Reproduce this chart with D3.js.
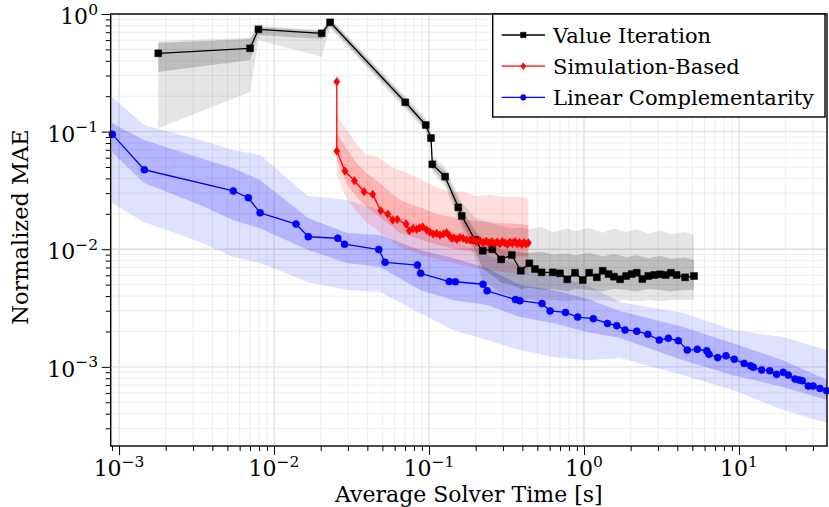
<!DOCTYPE html>
<html><head><meta charset="utf-8">
<script src="https://cdn.jsdelivr.net/npm/d3@7"></script>
<style>body{margin:0;background:#fff} svg{display:block} text{font-family:"DejaVu Serif",serif;fill:#000}</style>
</head><body><svg id="c" width="829" height="507"></svg>
<script>
// ---------------- data ----------------
const seriesNames = ["Value Iteration", "Simulation-Based", "Linear Complementarity"];

// Value Iteration (black squares)
const viX = [0.00179, 0.0070, 0.00793, 0.0203, 0.0230, 0.0703, 0.0953, 0.103, 0.105, 0.127, 0.1545, 0.1626, 0.198, 0.222, 0.256, 0.292, 0.342, 0.391, 0.444, 0.483, 0.533, 0.628, 0.700, 0.780, 0.875, 0.982, 1.08, 1.21, 1.32, 1.44, 1.56, 1.71, 1.87, 2.03, 2.19, 2.38, 2.60, 2.84, 3.09, 3.37, 3.64, 3.96, 4.49, 5.13];
const viY = [0.463, 0.511, 0.741, 0.685, 0.850, 0.1775, 0.1138, 0.0882, 0.0527, 0.0414, 0.0227, 0.0192, 0.0120, 0.0097, 0.0100, 0.0082, 0.00893, 0.00656, 0.00759, 0.00679, 0.00636, 0.00636, 0.00624, 0.00555, 0.00631, 0.00547, 0.00631, 0.00577, 0.00656, 0.00615, 0.00584, 0.00555, 0.00592, 0.00615, 0.00631, 0.00558, 0.00592, 0.00604, 0.00612, 0.00604, 0.00631, 0.00604, 0.00577, 0.00592];
const viBandX   = [0.00179, 0.0070, 0.00793, 0.0203, 0.0230, 0.0703, 0.0953, 0.103, 0.105, 0.127, 0.1545, 0.1626, 0.198, 0.222, 0.256, 0.292, 0.342, 0.391, 0.444, 0.533, 0.628, 0.78, 0.875, 1.08, 1.32, 1.56, 1.87, 2.19, 2.60, 3.09, 3.64, 4.49, 5.13];
const viOuterHi = [0.589, 0.625, 0.791, 0.731, 0.925, 0.20, 0.13, 0.10, 0.062, 0.05, 0.029, 0.025, 0.0185, 0.0177, 0.0165, 0.0158, 0.0150, 0.0152, 0.0148, 0.0155, 0.0140, 0.0150, 0.0142, 0.0152, 0.0138, 0.0150, 0.0140, 0.0148, 0.0136, 0.0145, 0.0135, 0.0140, 0.0132];
const viInnerHi = [0.567, 0.613, 0.775, 0.717, 0.906, 0.19, 0.122, 0.095, 0.058, 0.046, 0.026, 0.022, 0.0145, 0.0118, 0.0108, 0.0100, 0.0097, 0.0094, 0.0093, 0.0095, 0.0090, 0.0092, 0.0089, 0.0093, 0.0087, 0.0091, 0.0086, 0.0089, 0.0084, 0.0088, 0.0083, 0.0085, 0.0081];
const viInnerLo = [0.321, 0.406, 0.663, 0.613, 0.791, 0.165, 0.106, 0.081, 0.048, 0.037, 0.020, 0.0168, 0.0098, 0.0068, 0.0060, 0.0052, 0.0050, 0.0046, 0.0047, 0.0045, 0.0046, 0.0044, 0.0046, 0.0045, 0.0044, 0.0046, 0.0045, 0.0044, 0.0046, 0.0045, 0.0044, 0.0045, 0.0045];
const viOuterLo = [0.107, 0.217, 0.601, 0.431, 0.76, 0.155, 0.10, 0.076, 0.045, 0.034, 0.018, 0.015, 0.0085, 0.0055, 0.0048, 0.0042, 0.0040, 0.0036, 0.0038, 0.0036, 0.0037, 0.0036, 0.0037, 0.0036, 0.0037, 0.0036, 0.0037, 0.0036, 0.0037, 0.0036, 0.0037, 0.0037, 0.0037];

// Simulation-Based (red diamonds)
const sbX = [0.0254, 0.0254, 0.0287, 0.0330, 0.0381, 0.0433, 0.0488, 0.0542, 0.0583, 0.0624, 0.0711, 0.0746, 0.0790, 0.0833, 0.0870, 0.0910, 0.0967, 0.1010, 0.1066, 0.1120, 0.1178, 0.1240, 0.130, 0.135, 0.140, 0.145, 0.151, 0.158, 0.166, 0.175, 0.184, 0.193, 0.203, 0.213, 0.224, 0.234, 0.244, 0.254, 0.264, 0.275, 0.286, 0.297, 0.309, 0.321, 0.333, 0.345, 0.358, 0.371, 0.384, 0.397, 0.410, 0.423, 0.4375];
const sbY = [0.266, 0.0684, 0.0462, 0.0382, 0.0308, 0.0293, 0.0212, 0.0199, 0.0177, 0.0179, 0.0164, 0.01437, 0.0150, 0.01476, 0.0152, 0.0155, 0.01456, 0.0140, 0.01346, 0.0136, 0.0132, 0.0135, 0.0138, 0.0131, 0.01238, 0.0125, 0.01214, 0.0126, 0.01238, 0.0120, 0.01197, 0.0121, 0.01158, 0.0118, 0.01135, 0.0117, 0.0113, 0.0116, 0.0112, 0.0115, 0.0111, 0.0116, 0.0113, 0.0110, 0.0115, 0.0112, 0.0116, 0.0111, 0.0114, 0.0110, 0.0114, 0.0111, 0.0113];
const sbBandX   = [0.0254, 0.0275, 0.0297, 0.034, 0.0394, 0.045, 0.050, 0.057, 0.065, 0.077, 0.09, 0.11, 0.137, 0.165, 0.2, 0.25, 0.3, 0.36, 0.4375];
const sbOuterHi = [0.14, 0.118, 0.103, 0.078, 0.0632, 0.062, 0.0574, 0.050, 0.0471, 0.043, 0.0388, 0.034, 0.0306, 0.031, 0.0283, 0.029, 0.0278, 0.028, 0.0272];
const sbInnerHi = [0.095, 0.082, 0.0698, 0.054, 0.0445, 0.039, 0.0352, 0.030, 0.0262, 0.024, 0.0224, 0.020, 0.0188, 0.018, 0.0174, 0.0170, 0.0167, 0.0165, 0.0161];
const sbInnerLo = [0.057, 0.045, 0.0352, 0.028, 0.0229, 0.020, 0.0181, 0.0158, 0.01374, 0.0128, 0.01197, 0.0110, 0.01023, 0.0098, 0.00946, 0.0092, 0.00893, 0.0088, 0.0086];
const sbOuterLo = [0.043, 0.033, 0.0262, 0.021, 0.0170, 0.0150, 0.0132, 0.0118, 0.01044, 0.0096, 0.00893, 0.0083, 0.00778, 0.0073, 0.00692, 0.0066, 0.0064, 0.0062, 0.00604];

// Linear Complementarity (blue circles)
const lcX = [0.000905, 0.001456, 0.00546, 0.00682, 0.00813, 0.01387, 0.01663, 0.0258, 0.0285, 0.0474, 0.052, 0.0842, 0.0883, 0.135, 0.148, 0.223, 0.237, 0.361, 0.386, 0.536, 0.604, 0.760, 0.910, 1.148, 1.418, 1.626, 1.84, 2.19, 2.58, 3.06, 3.50, 4.06, 4.64, 5.38, 6.19, 6.40, 7.29, 8.24, 9.33, 10.8, 11.9, 12.4, 14.0, 15.8, 17.5, 19.3, 20.8, 23.0, 24.5, 25.6, 28.0, 30.1, 33.3, 36.8];
const lcY = [0.0948, 0.0474, 0.0313, 0.0274, 0.0204, 0.01638, 0.01277, 0.0124, 0.01103, 0.00994, 0.00774, 0.00734, 0.00624, 0.00531, 0.00529, 0.00504, 0.00443, 0.00373, 0.00365, 0.00345, 0.00299, 0.00290, 0.00265, 0.00257, 0.00234, 0.00224, 0.00206, 0.00201, 0.00189, 0.00169, 0.00175, 0.00167, 0.00139, 0.00141, 0.00137, 0.00128, 0.00120, 0.00124, 0.00116, 0.00107, 0.00102, 0.00099, 0.00094, 0.000927, 0.000863, 0.000898, 0.000851, 0.000787, 0.000772, 0.000762, 0.000687, 0.000687, 0.000656, 0.000626];
const lcBandX   = [0.0009, 0.00145, 0.00334, 0.00543, 0.00813, 0.01656, 0.0296, 0.0483, 0.0875, 0.143, 0.237, 0.386, 0.631, 1.045, 1.71, 4.35, 9.15, 19.2, 37];
const lcOuterHi = [0.197, 0.114, 0.0849, 0.0698, 0.0632, 0.0283, 0.0262, 0.0215, 0.0161, 0.01197, 0.00893, 0.00734, 0.00604, 0.00496, 0.00356, 0.00287, 0.00206, 0.00179, 0.00139];
const lcInnerHi = [0.118, 0.0849, 0.0596, 0.049, 0.0388, 0.0184, 0.01374, 0.0132, 0.00985, 0.00842, 0.00692, 0.00496, 0.0045, 0.00380, 0.00298, 0.00218, 0.00159, 0.00114, 0.000772];
const lcInnerLo = [0.0671, 0.0366, 0.0238, 0.0177, 0.0151, 0.00985, 0.00763, 0.00706, 0.0045, 0.0037, 0.00336, 0.00265, 0.00236, 0.00198, 0.00176, 0.00114, 0.00085, 0.000673, 0.000522];
const lcOuterLo = [0.0247, 0.0170, 0.0115, 0.0086, 0.00763, 0.00526, 0.0045, 0.00433, 0.00287, 0.00206, 0.00169, 0.00139, 0.00121, 0.00114, 0.00119, 0.00085, 0.000635, 0.00043, 0.000333];

// axes
const xTickExps = [-3, -2, -1, 0, 1];
const yTickExps = [0, -1, -2, -3];
const xTitle = "Average Solver Time [s]";
const yTitle = "Normalized MAE";

// ---------------- drawing ----------------
const svg = d3.select("#c");
const L = 110.7, T = 14, R = 827, B = 446;
const x = d3.scaleLog().domain([Math.pow(10, -3.054), Math.pow(10, 1.568)]).range([L, R]);
const y = d3.scaleLog().domain([Math.pow(10, -3.673), 1]).range([B, T]);

svg.append("defs").append("clipPath").attr("id", "clip")
  .append("rect").attr("x", L).attr("y", T).attr("width", R - L).attr("height", B - T);

function logTicks(scale) {
  const [a, b] = scale.domain();
  const major = [], minor = [];
  for (let e = Math.floor(Math.log10(a)); e <= Math.ceil(Math.log10(b)); e++) {
    for (let m = 1; m <= 9; m++) {
      const v = m * Math.pow(10, e);
      if (v < a * 0.9999 || v > b * 1.0001) continue;
      (m === 1 ? major : minor).push(v);
    }
  }
  return { major, minor };
}
const xt = logTicks(x), yt = logTicks(y);

// grid
const grid = svg.append("g");
grid.selectAll(".gxm").data(xt.minor).enter().append("line")
  .attr("x1", d => x(d)).attr("x2", d => x(d)).attr("y1", T).attr("y2", B)
  .attr("stroke", "#eeeeee").attr("stroke-width", 1);
grid.selectAll(".gym").data(yt.minor).enter().append("line")
  .attr("y1", d => y(d)).attr("y2", d => y(d)).attr("x1", L).attr("x2", R)
  .attr("stroke", "#eeeeee").attr("stroke-width", 1);
grid.selectAll(".gxM").data(xt.major).enter().append("line")
  .attr("x1", d => x(d)).attr("x2", d => x(d)).attr("y1", T).attr("y2", B)
  .attr("stroke", "#e0e0e0").attr("stroke-width", 1.3);
grid.selectAll(".gyM").data(yt.major).enter().append("line")
  .attr("y1", d => y(d)).attr("y2", d => y(d)).attr("x1", L).attr("x2", R)
  .attr("stroke", "#e0e0e0").attr("stroke-width", 1.3);

// bands
const bandsG = svg.append("g").attr("clip-path", "url(#clip)");
function band(xs, lo, hi, color, op) {
  const pts = xs.map((v, i) => ({ x: v, lo: lo[i], hi: hi[i] }));
  const area = d3.area().x(d => x(d.x)).y0(d => y(d.lo)).y1(d => y(d.hi));
  bandsG.append("path").datum(pts).attr("d", area).attr("fill", color).attr("fill-opacity", op);
}
band(lcBandX, lcOuterLo, lcOuterHi, "#0000ff", 0.12);
band(lcBandX, lcInnerLo, lcInnerHi, "#0000ff", 0.19);
band(sbBandX, sbOuterLo, sbOuterHi, "#ff0000", 0.13);
band(sbBandX, sbInnerLo, sbInnerHi, "#ff0000", 0.19);
band(viBandX, viOuterLo, viOuterHi, "#000000", 0.10);
band(viBandX, viInnerLo, viInnerHi, "#000000", 0.17);

// lines & markers
const linesG = svg.append("g").attr("clip-path", "url(#clip)");
const line = d3.line().x(d => x(d[0])).y(d => y(d[1]));
const series = [
  { xs: viX, ys: viY, color: "#000000", mark: "square" },
  { xs: sbX, ys: sbY, color: "#ff0000", mark: "diamond" },
  { xs: lcX, ys: lcY, color: "#0000ff", mark: "circle" }
];
function markPath(kind, s) {
  if (kind === "square") return `M${-s},${-s}h${2 * s}v${2 * s}h${-2 * s}Z`;
  if (kind === "diamond") return `M0,${-s * 1.35}L${s},0L0,${s * 1.35}L${-s},0Z`;
  return d3.symbol(d3.symbolCircle, Math.PI * s * s)();
}
const markG = svg.append("g");
series.forEach(sr => {
  const pts = sr.xs.map((v, i) => [v, sr.ys[i]]);
  linesG.append("path").datum(pts).attr("d", line).attr("fill", "none")
    .attr("stroke", sr.color).attr("stroke-width", 1.3).attr("stroke-linejoin", "round");
  const size = sr.mark === "square" ? 3.4 : sr.mark === "diamond" ? 3.1 : 3.5;
  markG.selectAll(null).data(pts).enter().append("path")
    .attr("d", markPath(sr.mark, size))
    .attr("transform", d => `translate(${x(d[0])},${y(d[1])})`)
    .attr("fill", sr.color).attr("stroke", sr.color).attr("stroke-width", 0.6);
});

// frame
svg.append("rect").attr("x", L).attr("y", T).attr("width", R - L).attr("height", B - T)
  .attr("fill", "none").attr("stroke", "#000").attr("stroke-width", 1.4);

// axis ticks (outside)
const xAxisMaj = d3.axisBottom(x).tickValues(xt.major).tickSize(9).tickFormat(() => "");
const xAxisMin = d3.axisBottom(x).tickValues(xt.minor).tickSize(5).tickFormat(() => "");
const yAxisMaj = d3.axisLeft(y).tickValues(yt.major).tickSize(9).tickFormat(() => "");
const yAxisMin = d3.axisLeft(y).tickValues(yt.minor).tickSize(5).tickFormat(() => "");
[xAxisMaj, xAxisMin].forEach(a => {
  const g = svg.append("g").attr("transform", `translate(0,${B})`).call(a);
  g.select(".domain").remove();
  g.selectAll("line").attr("stroke", "#000").attr("stroke-width", 1);
});
[yAxisMaj, yAxisMin].forEach(a => {
  const g = svg.append("g").attr("transform", `translate(${L},0)`).call(a);
  g.select(".domain").remove();
  g.selectAll("line").attr("stroke", "#000").attr("stroke-width", 1);
});

// tick labels
function powLabel(sel, e) {
  sel.append("tspan").text("10").attr("font-size", 22);
  sel.append("tspan").text(e < 0 ? "\u2212" + (-e) : String(e)).attr("font-size", 15.5).attr("dy", -9.5);
}
xTickExps.forEach(e => {
  const t = svg.append("text").attr("x", x(Math.pow(10, e))).attr("y", 476).attr("text-anchor", "middle");
  powLabel(t, e);
});
yTickExps.forEach(e => {
  const t = svg.append("text").attr("x", 98).attr("y", y(Math.pow(10, e)) + 10).attr("text-anchor", "end");
  powLabel(t, e);
});

// axis titles
svg.append("text").attr("x", (L + R) / 2).attr("y", 502).attr("text-anchor", "middle")
  .attr("font-size", 22).text(xTitle);
svg.append("text").attr("transform", `translate(28,${(T + B) / 2 - 3}) rotate(-90)`)
  .attr("text-anchor", "middle").attr("font-size", 22.5).text(yTitle);

// legend
const lg = svg.append("g");
lg.append("rect").attr("x", 492.7).attr("y", 14).attr("width", 332.3).attr("height", 103)
  .attr("fill", "#fff").attr("stroke", "#000").attr("stroke-width", 1.4);
series.forEach((sr, i) => {
  const ry = 35 + i * 31.2;
  lg.append("line").attr("x1", 501.7).attr("x2", 545).attr("y1", ry).attr("y2", ry)
    .attr("stroke", sr.color).attr("stroke-width", 1.3);
  const size = sr.mark === "square" ? 2.7 : sr.mark === "diamond" ? 2.5 : 2.8;
  lg.append("path").attr("d", markPath(sr.mark, size)).attr("transform", `translate(523.3,${ry})`)
    .attr("fill", sr.color).attr("stroke", sr.color).attr("stroke-width", 0.6);
  lg.append("text").attr("x", 553).attr("y", ry + 7.5).attr("font-size", 21).text(seriesNames[i]);
});
</script>
</body></html>
